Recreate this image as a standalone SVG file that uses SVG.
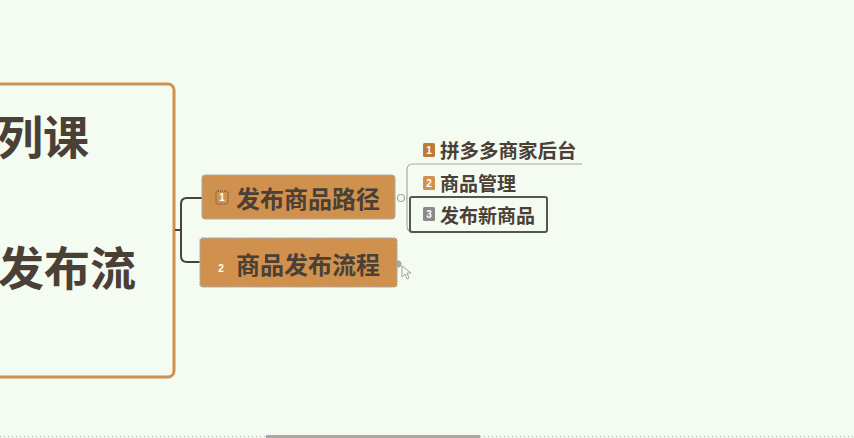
<svg xmlns="http://www.w3.org/2000/svg" width="854" height="438" viewBox="0 0 854 438">
<style>
.t{font-family:"Noto Sans CJK SC","Noto Sans",sans-serif;font-weight:bold;fill:#4a4035}
.c{fill:none;stroke:#4a4035;stroke-width:2}
.g{fill:none;stroke:#a8a8a8;stroke-width:1.2}
.badge{font-family:"Liberation Sans",sans-serif;font-size:10px;font-weight:bold;fill:#fff;text-anchor:middle}
</style>
<rect width="854" height="438" fill="#f4fbf1"/>
<g id="root">
<rect x="-20" y="84" width="194" height="293" rx="6" fill="#f4fbf1" stroke="#d0914f" stroke-width="3"/>
<text class="t" x="89" y="154" font-size="46" text-anchor="end">列课</text>
<text class="t" x="136" y="285" font-size="46" text-anchor="end">发布流</text>
</g>
<g id="connectors">
<path class="c" d="M175 230 H181 M202 198 H187 Q181 198 181 204 V256 Q181 262 187 262 H202"/>
<path class="g" d="M406 198 H407 M407 212 V170 Q407 164 413 164 H582 M407 212 V226 Q407 232 413 232"/>
<circle cx="401" cy="198" r="3.5" fill="#f4fbf1" stroke="#a8a8a8" stroke-width="1.2"/>
<circle cx="398" cy="264" r="3.5" fill="#a8a8a8"/>
<path d="M402 266 L402 277 L405 274 L407 279 L409 278 L407 273 L411 273 Z" fill="#f4fbf1" stroke="#a0a0a0" stroke-width="1"/>
</g>
<g id="node-path">
<rect x="202" y="175" width="193" height="44" rx="3" fill="#d0914f" stroke="#b0a89c" stroke-width="1"/>
<rect x="216" y="191" width="12" height="13" rx="2" fill="#d0914f" stroke="#4a4035" stroke-width="1" stroke-dasharray="1 1"/>
<text class="badge" x="222" y="201" fill="#f4e0c8">1</text>
<text class="t" x="236" y="208" font-size="24">发布商品路径</text>
</g>
<g id="node-flow">
<rect x="200" y="238" width="197" height="49" rx="3" fill="#d0914f" stroke="#a8a8a8" stroke-width="1.5" stroke-dasharray="1.5 1"/>
<text class="badge" x="221" y="272" fill="#e8d8c4">2</text>
<text class="t" x="236" y="274" font-size="24">商品发布流程</text>
</g>
<g id="child-1">
<rect x="423" y="143" width="12" height="14" rx="1.5" fill="#c07a38"/>
<text class="badge" x="429" y="154">1</text>
<text class="t" x="440" y="158" font-size="19.5">拼多多商家后台</text>
</g>
<g id="child-2">
<rect x="423" y="176" width="12" height="14" rx="1.5" fill="#d0914f"/>
<text class="badge" x="429" y="187">2</text>
<text class="t" x="440" y="191" font-size="19">商品管理</text>
</g>
<g id="child-3">
<rect x="410" y="197" width="137" height="35" rx="2" fill="#f4fbf1" stroke="#555" stroke-width="2"/>
<rect x="423" y="207" width="12" height="14" rx="1.5" fill="#8a8a8a"/>
<text class="badge" x="429" y="218">3</text>
<text class="t" x="440" y="223" font-size="19">发布新商品</text>
</g>
<g id="scrollbar">
<line x1="0" y1="436.5" x2="266" y2="436.5" stroke="#a8a8a8" stroke-width="1" stroke-dasharray="1 3"/>
<rect x="266" y="435" width="214" height="3" fill="#a8a8a8"/>
<line x1="480" y1="436.5" x2="854" y2="436.5" stroke="#a8a8a8" stroke-width="1" stroke-dasharray="1 3"/>
</g>
</svg>
